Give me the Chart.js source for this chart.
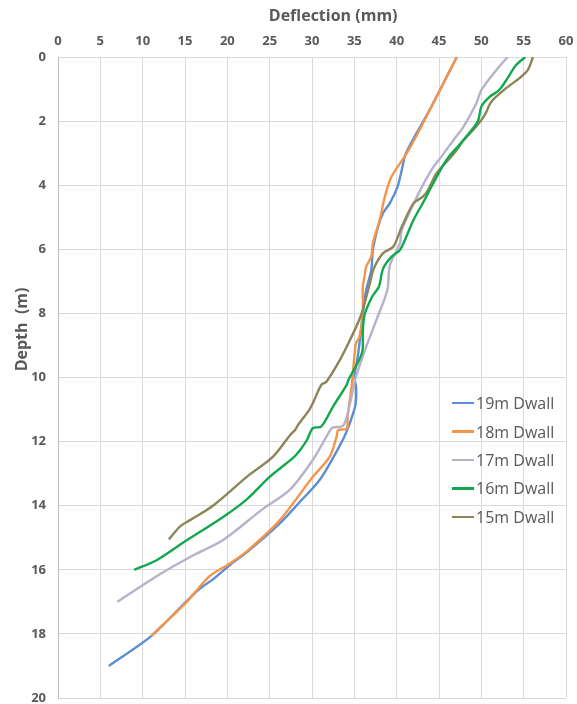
<!DOCTYPE html>
<html>
<head>
<meta charset="utf-8">
<script src="https://cdn.jsdelivr.net/npm/chart.js@4"></script>
<style>
  html, body { margin: 0; padding: 0; background: #fff; }
  #wrap { position: relative; width: 577px; height: 704px; }
  #legend { position: absolute; left: 452px; top: 389px; font-family: "Open Sans", sans-serif; font-size: 16px; color: #595959; }
  #legend div { height: 28.4px; display: flex; align-items: center; white-space: nowrap; }
  #legend span.sw { display: inline-block; width: 22px; height: 2.5px; margin-right: 2px; }
</style>
</head>
<body>
<div id="wrap">
  <canvas id="c" width="577" height="704"></canvas>
  <div id="legend"></div>
</div>
<script>
const seriesNames = ["19m Dwall", "18m Dwall", "17m Dwall", "16m Dwall", "15m Dwall"];
const seriesColors = ["#5b8ed6", "#f4954a", "#b5b2c9", "#12a94e", "#8c8558"];
const xTicks = [0, 5, 10, 15, 20, 25, 30, 35, 40, 45, 50, 55, 60];
const yTicks = [0, 2, 4, 6, 8, 10, 12, 14, 16, 18, 20];
const xTitle = "Deflection (mm)";
const yTitle = "Depth  (m)";

const depth19 = [0, 1.65, 3.0, 3.53, 4.05, 4.56, 4.87, 5.3, 6.0, 6.65, 7.27, 8.0, 8.52, 9.35, 9.97, 10.28, 10.7, 11.0, 11.74, 12.36, 13.2, 13.9, 14.55, 15.43, 15.85, 16.3, 16.6, 17.0, 18.07, 19.0];
const defl19  = [47.1, 43.9, 41.1, 40.6, 40.1, 39.2, 38.4, 37.8, 37.2, 37.0, 36.4, 36.0, 35.8, 35.4, 35.0, 35.2, 35.2, 35.0, 34.0, 32.8, 30.9, 28.5, 26.2, 22.4, 20.3, 18.3, 16.7, 15.1, 11.0, 6.0];

const depth18 = [0, 2.28, 3.0, 3.73, 4.36, 5.08, 5.8, 6.23, 6.54, 6.85, 7.17, 8.0, 8.73, 8.93, 9.35, 10.23, 11.22, 11.6, 11.64, 11.85, 12.47, 13.1, 14.45, 15.4, 15.8, 16.2, 17.0, 18.07];
const defl18  = [47.1, 42.7, 41.2, 39.4, 38.6, 38.0, 37.2, 37.0, 36.4, 36.2, 36.0, 36.0, 35.6, 35.2, 35.0, 34.7, 34.2, 34.1, 33.1, 32.9, 32.1, 30.1, 26.2, 22.4, 20.3, 17.9, 15.2, 11.0];

const depth17 = [0, 0.4, 1.03, 1.45, 2.17, 2.6, 3.1, 3.53, 4.2, 5.4, 5.8, 6.5, 7.27, 8.14, 9.04, 9.97, 10.8, 11.5, 11.57, 11.85, 12.57, 13.5, 14.1, 15.07, 15.6, 16.2, 17.0];
const defl17  = [53.1, 51.8, 50.0, 49.4, 47.9, 46.7, 45.3, 44.1, 42.7, 40.6, 40.4, 39.2, 38.9, 37.7, 36.4, 35.2, 34.5, 33.7, 32.4, 31.7, 30.1, 27.4, 24.2, 19.5, 15.6, 11.65, 7.0];

const depth16 = [0, 0.25, 0.66, 1.03, 1.24, 1.55, 2.0, 2.49, 2.8, 3.1, 3.42, 4.15, 4.46, 5.08, 6.02, 6.23, 6.6, 7.17, 7.48, 8.05, 8.57, 9.24, 10.08, 10.23, 10.9, 11.53, 11.58, 11.95, 12.26, 12.5, 13.1, 13.8, 14.35, 15.15, 15.7, 16.0];
const defl16  = [55.2, 54.1, 53.1, 52.1, 51.0, 50.0, 49.6, 48.2, 47.2, 46.2, 45.4, 43.9, 43.3, 42.0, 40.4, 39.4, 38.4, 37.9, 37.1, 36.2, 36.0, 35.9, 34.3, 34.1, 32.5, 31.1, 30.1, 29.4, 28.6, 27.8, 25.0, 22.3, 19.5, 14.8, 11.65, 9.0];

const depth15 = [0, 0.4, 0.66, 0.98, 1.39, 1.81, 2.17, 2.6, 2.9, 3.21, 3.63, 4.15, 4.36, 4.56, 5.3, 5.92, 6.12, 6.6, 7.1, 8.05, 8.77, 9.45, 10.13, 10.23, 10.8, 11.0, 11.5, 11.64, 11.8, 12.47, 13.1, 14.0, 14.45, 14.65, 15.05];
const defl15  = [56.1, 55.5, 54.5, 52.9, 51.2, 50.4, 49.4, 47.9, 47.1, 46.1, 44.7, 43.7, 43.1, 42.0, 40.6, 39.6, 38.4, 37.3, 36.8, 35.8, 34.6, 33.3, 31.7, 31.1, 30.1, 29.7, 28.3, 28.0, 27.4, 25.4, 22.3, 18.3, 15.6, 14.4, 13.1];

const depths = [depth19, depth18, depth17, depth16, depth15];
const defls = [defl19, defl18, defl17, defl16, defl15];
const drawOrder = [5, 4, 3, 1, 2];

const datasets = seriesNames.map((name, i) => ({
  label: name,
  data: depths[i].map((d, k) => ({ x: defls[i][k], y: d })),
  borderColor: seriesColors[i],
  backgroundColor: seriesColors[i],
  borderWidth: 2.4,
  pointRadius: 0,
  showLine: true,
  tension: 0.3,
  fill: false,
  order: drawOrder[i]
}));

const tickFont = { family: "'Open Sans', sans-serif", size: 13, weight: 'bold' };

// Axis titles placed where the reference has them (offset from the axis centre)
const axisTitles = {
  id: 'axisTitles',
  afterDraw(chart) {
    const ctx = chart.ctx;
    const xs = chart.scales.x, ys = chart.scales.y;
    ctx.save();
    ctx.fillStyle = '#595959';
    ctx.font = "bold 16px 'Open Sans', sans-serif";
    ctx.textAlign = 'center';
    ctx.textBaseline = 'middle';
    ctx.fillText(xTitle, xs.getPixelForValue(32.5), 16);
    ctx.translate(22, ys.getPixelForValue(8.5));
    ctx.rotate(-Math.PI / 2);
    ctx.fillText(yTitle, 0, 0);
    ctx.restore();
  }
};

new Chart(document.getElementById('c'), {
  type: 'scatter',
  data: { datasets },
  plugins: [axisTitles],
  options: {
    responsive: false,
    animation: false,
    layout: { padding: { left: 0, right: 11, top: 0, bottom: 6 } },
    plugins: { legend: { display: false }, tooltip: { enabled: false } },
    scales: {
      x: {
        type: 'linear', position: 'top', min: 0, max: 60,
        afterBuildTicks: (s) => { s.ticks = xTicks.map(v => ({ value: v })); },
        afterFit: (s) => { s.height = 57; s.paddingLeft = 0; s.paddingRight = 0; },
        grid: { color: '#d9d9d9', lineWidth: 1, drawTicks: false },
        border: { display: false },
        ticks: { color: '#595959', font: tickFont, padding: 8 },
        title: { display: false, text: xTitle }
      },
      y: {
        type: 'linear', reverse: true, min: 0, max: 20,
        afterBuildTicks: (s) => { s.ticks = yTicks.map(v => ({ value: v })); },
        afterFit: (s) => { s.width = 58; s.paddingTop = 0; s.paddingBottom = 0; },
        grid: { color: '#d9d9d9', lineWidth: 1, drawTicks: false },
        border: { display: true, color: '#bfbfbf', width: 1 },
        ticks: { color: '#595959', font: tickFont, padding: 12 },
        title: { display: false, text: yTitle }
      }
    }
  }
});

const leg = document.getElementById('legend');
seriesNames.forEach((n, i) => {
  const row = document.createElement('div');
  const sw = document.createElement('span');
  sw.className = 'sw';
  sw.style.background = seriesColors[i];
  row.appendChild(sw);
  row.appendChild(document.createTextNode(n));
  leg.appendChild(row);
});
</script>
</body>
</html>
